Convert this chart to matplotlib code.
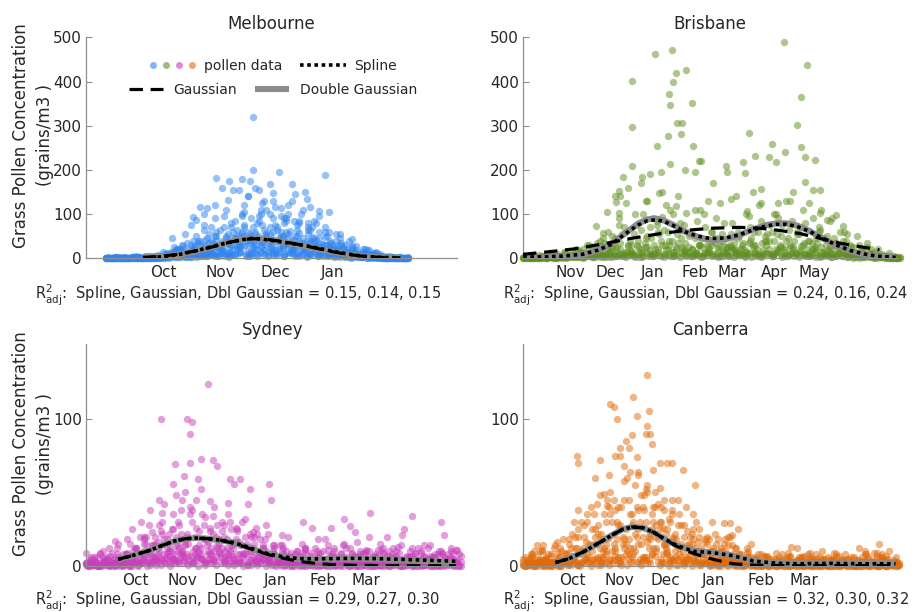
import numpy as np
import matplotlib
matplotlib.use('Agg')
from matplotlib import pyplot as plt
from matplotlib.lines import Line2D
from matplotlib.legend_handler import HandlerTuple

plt.rcParams['font.family'] = 'DejaVu Sans'
plt.rcParams['text.color'] = '#262626'
plt.rcParams['xtick.color'] = '#262626'
plt.rcParams['ytick.color'] = '#262626'

BLUE, GREEN, MAGENTA, ORANGE = '#2f84ee', '#5e8f1f', '#c83fbb', '#e06a0a'
AXIS_GREY = '#8f8f8f'
FIT_GREY = '#8c8c8c'

# ---- Melbourne (x = days since start of season window) ----
melb_months = ['Oct', 'Nov', 'Dec', 'Jan']
melb_month_days = [42, 73, 103, 134]
melb_rows = [
    [0, 1, 0, 2, 1, 0, 3, 1, 2, 5, 3, 8, 12, 6, 20, 9, 25, 14, 30, 18,
     42, 22, 55, 30, 48, 70, 35, 60, 28, 52, 40, 65, 22, 45, 30, 58, 18, 35, 26, 14,
     30, 12, 20, 8, 15, 6, 10, 4, 7, 2, 3, 1, 2, 0, 1],
    [0, 0, 2, 1, 0, 4, 0, 2, 1, 3, 6, 2, 15, 22, 4, 30, 10, 12, 45, 8,
     20, 35, 15, 85, 25, 40, 90, 20, 75, 35, 60, 28, 80, 15, 50, 22, 40, 70, 10, 32,
     8, 25, 16, 30, 5, 18, 3, 12, 2, 6, 1, 4, 0, 2, 0],
    [1, 2, 0, 0, 3, 1, 1, 0, 6, 2, 10, 5, 3, 15, 8, 12, 35, 5, 20, 50,
     12, 8, 30, 20, 100, 15, 25, 50, 10, 20, 18, 95, 35, 12, 75, 10, 55, 15, 45, 60,
     20, 40, 9, 14, 25, 3, 8, 18, 1, 4, 2, 0, 1, 1, 0],
    [0, 1, 1, 0, 0, 2, 2, 5, 0, 1, 2, 12, 6, 4, 28, 5, 18, 40, 8, 25,
     60, 15, 40, 10, 35, 120, 55, 12, 110, 45, 25, 12, 30, 100, 20, 85, 25, 10, 80, 20,
     50, 8, 30, 12, 40, 10, 5, 22, 8, 15, 0, 2, 3, 0, 1],
    [2, 0, 1, 3, 1, 0, 1, 2, 3, 8, 15, 4, 25, 10, 12, 2, 50, 22, 10, 35,
     5, 70, 22, 45, 15, 30, 10, 80, 40, 15, 90, 45, 10, 62, 25, 30, 12, 48, 30, 5,
     10, 18, 55, 5, 8, 28, 2, 5, 12, 1, 5, 0, 1, 3, 0],
    [0, 3, 0, 1, 2, 1, 0, 4, 1, 0, 0, 6, 9, 30, 2, 20, 5, 75, 12, 4,
     30, 50, 8, 65, 55, 5, 70, 40, 18, 100, 10, 40, 60, 20, 8, 45, 70, 32, 8, 48,
     35, 5, 12, 22, 2, 8, 15, 3, 5, 10, 1, 2, 0, 0, 2],
    [0, 0, 1, 0, 1, 0, 2, 0, 1, 2, 4, 3, 8, 2, 10, 6, 12, 4, 15, 10,
     8, 18, 5, 22, 12, 28, 6, 20, 14, 30, 22, 8, 25, 14, 18, 5, 20, 9, 16, 12,
     6, 14, 4, 10, 3, 7, 2, 4, 1, 3, 0, 1, 0, 1, 0],
    [1, 0, 0, 1, 0, 2, 0, 1, 0, 1, 1, 5, 2, 8, 3, 14, 2, 10, 6, 16,
     25, 4, 12, 8, 30, 10, 18, 5, 25, 8, 12, 20, 6, 28, 10, 16, 5, 22, 4, 18,
     15, 3, 8, 2, 12, 4, 6, 1, 3, 2, 0, 0, 1, 0, 0],
    [0, 1, 0, 0, 2, 0, 1, 3, 2, 4, 8, 15, 20, 12, 35, 18, 40, 25, 55, 30,
     65, 45, 80, 50, 95, 60, 40, 85, 65, 55, 75, 50, 90, 40, 65, 35, 80, 45, 60, 30,
     40, 20, 35, 15, 28, 12, 20, 8, 10, 5, 3, 2, 1, 0, 1],
    [1, 0, 2, 0, 1, 1, 0, 2, 4, 3, 5, 10, 6, 18, 12, 22, 15, 30, 20, 38,
     28, 40, 32, 45, 38, 50, 42, 55, 36, 48, 44, 38, 50, 30, 42, 35, 28, 40, 25, 32,
     22, 18, 15, 20, 10, 12, 6, 8, 4, 3, 2, 1, 0, 1, 0],
    [0, 0, 1, 1, 0, 0, 1, 0, 2, 1, 2, 1, 4, 3, 5, 2, 8, 6, 4, 10,
     6, 12, 3, 9, 15, 4, 11, 7, 13, 5, 9, 14, 4, 11, 6, 10, 3, 8, 5, 7,
     4, 6, 2, 5, 1, 3, 2, 1, 2, 0, 1, 0, 0, 0, 1],
    [0, 0, 0, 1, 0, 1, 0, 1, 0, 2, 3, 7, 18, 4, 10, 40, 12, 65, 35, 90,
     20, 110, 70, 25, 60, 140, 35, 95, 130, 70, 115, 60, 85, 130, 50, 110, 65, 40, 95, 70,
     25, 55, 30, 10, 20, 5, 12, 3, 6, 2, 1, 0, 1, 0, 0],
    [1, 1, 0, 0, 1, 2, 0, 0, 1, 0, 2, 4, 10, 22, 6, 15, 28, 10, 42, 15,
     50, 22, 35, 60, 28, 75, 48, 30, 100, 58, 35, 70, 45, 55, 85, 40, 30, 65, 42, 25,
     15, 32, 10, 25, 6, 15, 4, 9, 2, 4, 0, 1, 0, 2, 1],
]
melb_peak_day = [91, 91, 71, 78, 85, 74, 80, 83, 92, 94, 100, 105, 130, 112, 102, 114, 120,
                 102, 122, 132, 106, 127, 66, 70, 77, 58, 57, 60, 47, 138, 145, 153, 132, 88,
                 96, 110, 117, 64, 86, 98, 124, 108, 75, 68, 119, 89, 158, 54, 62, 116]
melb_peak_val = [319, 199, 181, 174, 179, 160, 154, 154, 160, 155, 169, 195, 188, 167, 147,
                 145, 133, 130, 116, 104, 113, 108, 113, 120, 131, 93, 75, 86, 45, 45, 43, 18,
                 60, 140, 125, 120, 100, 100, 105, 110, 85, 90, 95, 70, 150, 175, 12, 55, 116, 80]
melb_fit_day = [31, 40, 50, 60, 70, 78, 85, 90, 95, 100, 108, 116, 125, 134, 142, 150, 160, 171]
melb_dgauss = [2, 4, 8, 16, 27, 37, 43, 45, 44, 42, 37, 30, 22, 15, 9, 5, 2, 1]
melb_spline = [1, 3, 8, 17, 28, 36, 42, 45, 44, 41, 36, 31, 24, 16, 10, 5, 2, 1]
melb_gauss = [2, 4, 9, 17, 27, 36, 42, 44, 44, 42, 37, 31, 23, 15, 9, 5, 2, 1]

# ---- Brisbane ----
bris_months = ['Nov', 'Dec', 'Jan', 'Feb', 'Mar', 'Apr', 'May']
bris_month_days = [35, 65, 96, 127, 155, 186, 216]
bris_rows = [
    [2, 5, 1, 8, 3, 12, 4, 6, 15, 8, 5, 20, 10, 25, 8, 35, 15, 45, 20, 60,
     30, 75, 10, 50, 90, 20, 65, 40, 15, 80, 35, 55, 12, 45, 30, 60, 20, 40, 8, 35,
     50, 18, 70, 30, 85, 40, 60, 15, 75, 45, 25, 55, 10, 40, 20, 65, 30, 12, 35, 18,
     8, 25, 5, 15, 10, 3, 8, 2, 4, 1],
    [0, 1, 3, 0, 6, 2, 10, 1, 4, 12, 18, 3, 30, 6, 40, 12, 2, 25, 55, 8,
     15, 40, 100, 5, 30, 55, 8, 110, 25, 45, 10, 20, 85, 5, 25, 10, 45, 80, 30, 15,
     20, 100, 45, 10, 35, 55, 5, 90, 20, 65, 40, 15, 80, 5, 45, 25, 50, 8, 20, 40,
     15, 5, 30, 2, 12, 6, 2, 5, 1, 0],
    [4, 0, 2, 5, 1, 7, 2, 15, 3, 6, 2, 10, 4, 15, 28, 3, 50, 10, 8, 30,
     55, 2, 25, 70, 10, 40, 120, 15, 55, 20, 60, 8, 30, 100, 15, 45, 5, 20, 55, 10,
     30, 8, 25, 60, 12, 20, 40, 30, 5, 25, 10, 70, 20, 35, 8, 15, 5, 45, 10, 60,
     30, 2, 18, 8, 20, 1, 10, 4, 0, 2],
    [1, 3, 0, 2, 4, 0, 5, 3, 8, 2, 10, 6, 2, 35, 5, 20, 8, 75, 5, 12,
     2, 20, 45, 8, 75, 30, 20, 5, 35, 10, 25, 45, 6, 15, 60, 5, 28, 10, 20, 45,
     8, 35, 12, 5, 50, 10, 20, 8, 40, 12, 55, 30, 5, 20, 60, 10, 25, 35, 15, 8,
     5, 12, 2, 25, 3, 8, 4, 1, 2, 0],
    [0, 2, 1, 0, 2, 3, 1, 4, 2, 5, 8, 2, 15, 5, 12, 8, 25, 6, 35, 15,
     8, 30, 15, 25, 5, 60, 10, 30, 8, 65, 15, 5, 15, 25, 8, 30, 15, 5, 25, 18,
     12, 5, 40, 15, 8, 30, 10, 55, 25, 5, 20, 8, 35, 12, 25, 5, 15, 20, 5, 25,
     10, 15, 8, 5, 2, 15, 3, 6, 1, 2],
    [1, 0, 2, 1, 0, 3, 1, 5, 2, 8, 3, 12, 5, 2, 18, 8, 4, 22, 6, 15,
     10, 25, 4, 18, 12, 8, 30, 5, 20, 12, 6, 22, 10, 4, 15, 8, 28, 12, 4, 20,
     8, 15, 3, 22, 6, 12, 5, 18, 8, 10, 4, 18, 6, 10, 2, 15, 8, 3, 12, 6,
     2, 8, 1, 5, 10, 2, 4, 1, 2, 0],
    [0, 2, 1, 3, 0, 1, 4, 2, 6, 3, 10, 4, 8, 14, 3, 10, 20, 6, 12, 28,
     5, 15, 35, 10, 22, 6, 18, 40, 8, 25, 14, 5, 30, 12, 20, 35, 6, 15, 25, 9,
     22, 12, 30, 8, 18, 40, 10, 25, 15, 30, 12, 28, 8, 20, 35, 6, 18, 10, 25, 14,
     6, 10, 4, 8, 3, 5, 2, 3, 1, 0],
    [3, 1, 0, 4, 2, 8, 3, 12, 5, 20, 14, 30, 25, 12, 45, 60, 35, 90, 70, 40,
     100, 65, 130, 45, 85, 150, 60, 100, 140, 75, 50, 110, 30, 70, 40, 90, 55, 25, 80, 60,
     35, 95, 60, 120, 40, 75, 100, 50, 130, 85, 60, 110, 40, 90, 70, 45, 85, 30, 60, 40,
     25, 50, 20, 35, 10, 20, 6, 12, 4, 2],
    [1, 0, 1, 2, 0, 4, 1, 3, 1, 2, 6, 1, 9, 3, 6, 2, 12, 4, 9, 3,
     16, 8, 2, 12, 4, 15, 3, 10, 6, 2, 18, 4, 9, 2, 12, 5, 3, 14, 6, 2,
     8, 3, 12, 5, 2, 10, 4, 15, 3, 8, 12, 2, 9, 5, 14, 3, 8, 2, 6, 4,
     3, 1, 5, 2, 4, 0, 3, 1, 0, 1],
]
bris_peak_day = [81, 81, 98, 110, 113, 111, 108, 109, 114, 118, 117, 107, 121, 125, 126, 99,
                 81, 193, 210, 206, 203, 206, 194, 184, 187, 182, 172, 167, 216, 209, 209, 215,
                 220, 150, 151, 163, 164, 130, 132, 127, 120, 109, 102, 88, 94, 87, 74, 78, 71,
                 72, 76, 69, 92, 137, 141, 154, 158, 170, 176, 189, 200, 212, 221, 225, 232,
                 237, 240, 229, 220, 198, 186, 176, 166, 146, 131, 121, 113, 103, 101, 71, 62,
                 68, 54, 59]
bris_peak_val = [401, 297, 462, 472, 420, 398, 371, 346, 307, 307, 282, 276, 425, 351, 255,
                 253, 208, 489, 437, 365, 301, 251, 240, 259, 218, 229, 231, 284, 222, 230,
                 172, 155, 155, 209, 195, 217, 193, 219, 220, 195, 199, 214, 195, 185, 190,
                 170, 183, 160, 152, 140, 126, 128, 130, 130, 170, 133, 140, 149, 156, 126,
                 149, 126, 110, 87, 97, 72, 55, 90, 102, 130, 101, 126, 107, 125, 110, 102,
                 118, 94, 148, 102, 105, 140, 72, 57]
bris_fit_day = [0, 15, 30, 44, 55, 65, 75, 85, 92, 98, 104, 112, 120, 128, 136, 142, 150, 160,
                170, 180, 188, 195, 203, 212, 222, 232, 242, 252, 262, 276]
bris_dgauss = [2, 2, 4, 8, 18, 32, 55, 78, 88, 90, 86, 74, 60, 50, 43, 41, 43, 52, 65, 75,
               79, 79, 74, 62, 45, 29, 17, 9, 5, 2]
bris_spline = [3, 3, 5, 9, 18, 31, 54, 75, 85, 87, 84, 73, 60, 51, 46, 45, 46, 53, 64, 73,
               77, 77, 72, 61, 45, 30, 18, 10, 5, 2]
bris_gauss_day = [0, 20, 40, 60, 80, 100, 120, 140, 160, 175, 190, 205, 220, 235, 250, 264]
bris_gauss = [9, 15, 22, 33, 45, 55, 63, 68, 70, 68, 63, 56, 45, 34, 26, 19]

# ---- Sydney ----
syd_months = ['Oct', 'Nov', 'Dec', 'Jan', 'Feb', 'Mar']
syd_month_days = [32, 63, 93, 124, 155, 183]
syd_rows = [
    [2, 5, 1, 8, 3, 0, 4, 6, 2, 9, 5, 12, 3, 15, 8, 20, 6, 18, 10, 25,
     14, 8, 22, 30, 12, 5, 18, 26, 10, 15, 20, 8, 12, 25, 6, 15, 10, 3, 18, 8,
     5, 12, 3, 8, 2, 6, 10, 1, 4, 7, 3, 9, 1, 5, 12, 2, 6, 3, 8, 1,
     4, 10, 2, 6, 1, 8, 3, 12, 2, 5, 1, 7, 3, 10, 2, 5, 8, 1, 6, 3, 9, 2],
    [0, 2, 6, 1, 3, 7, 0, 2, 5, 1, 10, 2, 8, 4, 14, 2, 24, 5, 12, 8,
     28, 3, 15, 10, 6, 35, 4, 12, 20, 6, 10, 30, 4, 16, 9, 2, 12, 22, 5, 10,
     2, 6, 14, 1, 7, 3, 0, 9, 2, 4, 10, 1, 4, 7, 0, 3, 15, 2, 6, 0,
     8, 2, 5, 0, 11, 3, 6, 1, 9, 4, 6, 2, 12, 0, 5, 3, 1, 10, 2, 6, 1, 8],
    [4, 1, 0, 3, 6, 2, 8, 1, 3, 0, 2, 8, 15, 2, 6, 12, 4, 9, 3, 14,
     6, 18, 4, 8, 14, 2, 10, 5, 28, 12, 5, 14, 18, 3, 8, 22, 4, 6, 12, 2,
     14, 2, 5, 10, 1, 3, 6, 12, 3, 0, 6, 2, 11, 4, 1, 8, 3, 0, 5, 10,
     2, 6, 0, 3, 9, 1, 4, 7, 0, 3, 10, 4, 1, 6, 3, 0, 8, 2, 4, 12, 3, 0],
    [1, 3, 2, 0, 4, 1, 2, 5, 0, 3, 6, 4, 2, 9, 3, 6, 10, 3, 7, 5,
     4, 10, 8, 2, 6, 12, 3, 8, 4, 10, 3, 6, 2, 8, 14, 1, 5, 9, 3, 6,
     4, 8, 2, 3, 6, 0, 2, 4, 8, 1, 2, 5, 3, 0, 6, 2, 4, 1, 3, 6,
     0, 4, 2, 7, 1, 3, 0, 5, 2, 1, 4, 0, 3, 5, 1, 7, 2, 0, 4, 1, 2, 4],
    [0, 1, 0, 2, 1, 0, 1, 3, 1, 0, 2, 1, 4, 0, 3, 1, 5, 2, 0, 4,
     2, 6, 1, 3, 0, 5, 2, 8, 1, 3, 6, 2, 1, 4, 0, 3, 2, 1, 5, 0,
     1, 0, 3, 1, 0, 2, 1, 0, 1, 3, 0, 1, 2, 0, 1, 0, 3, 1, 0, 2,
     1, 0, 2, 1, 0, 1, 0, 2, 1, 0, 2, 1, 0, 1, 3, 0, 1, 0, 2, 1, 0, 1],
    [1, 4, 0, 6, 2, 9, 1, 5, 8, 3, 12, 6, 18, 10, 4, 16, 22, 12, 6, 20,
     8, 15, 35, 12, 24, 18, 8, 22, 14, 30, 12, 25, 16, 8, 20, 10, 15, 6, 12, 4,
     8, 3, 10, 6, 2, 8, 4, 12, 5, 2, 6, 10, 3, 8, 2, 5, 12, 4, 7, 3,
     9, 2, 6, 11, 4, 7, 2, 10, 3, 6, 2, 8, 4, 14, 1, 6, 3, 9, 2, 5, 11, 3],
    [2, 0, 3, 1, 1, 4, 0, 2, 1, 3, 0, 3, 2, 6, 1, 4, 3, 8, 2, 5,
     3, 10, 2, 6, 4, 8, 1, 5, 3, 9, 4, 1, 6, 2, 3, 7, 1, 4, 2, 5,
     3, 1, 2, 0, 4, 1, 3, 2, 0, 1, 2, 0, 1, 3, 1, 2, 0, 4, 1, 0,
     3, 1, 0, 2, 1, 0, 2, 1, 3, 0, 1, 2, 0, 3, 1, 0, 2, 1, 0, 2, 1, 0],
    [1, 2, 1, 0, 3, 1, 2, 0, 4, 2, 3, 0, 5, 2, 8, 4, 1, 6, 10, 3,
     12, 4, 7, 2, 10, 5, 14, 3, 6, 8, 2, 10, 5, 3, 8, 1, 6, 3, 9, 2,
     5, 2, 1, 4, 2, 0, 5, 1, 3, 2, 1, 4, 0, 2, 5, 1, 3, 0, 2, 6,
     1, 3, 0, 1, 4, 2, 1, 5, 0, 2, 3, 0, 4, 1, 2, 6, 0, 3, 1, 2, 4, 0],
    [3, 6, 2, 10, 5, 2, 12, 4, 8, 15, 6, 20, 10, 28, 14, 8, 30, 18, 25, 10,
     22, 14, 40, 20, 9, 28, 16, 34, 12, 24, 18, 8, 26, 14, 32, 12, 20, 9, 14, 22,
     10, 6, 14, 4, 9, 3, 7, 11, 2, 5, 8, 4, 14, 2, 6, 9, 3, 12, 5, 8,
     4, 10, 2, 7, 12, 3, 8, 5, 14, 2, 6, 9, 3, 7, 12, 4, 2, 8, 5, 10, 3, 7],
    [2, 6, 3, 9, 4, 12, 5, 15, 8, 18, 25, 12, 30, 20, 38, 15, 28, 42, 22, 35,
     30, 45, 20, 38, 26, 52, 33, 24, 40, 18, 28, 35, 15, 24, 30, 12, 20, 26, 10, 18,
     8, 14, 5, 12, 20, 6, 10, 15, 4, 9, 12, 5, 18, 7, 10, 3, 14, 6, 9, 16,
     5, 11, 3, 8, 15, 4, 10, 6, 13, 3, 7, 12, 4, 9, 3, 14, 6, 10, 2, 8, 5, 11],
]
syd_peak_day = [80, 49, 66, 69, 68, 75, 83, 68, 58, 86, 64, 73, 57, 94, 101, 97, 120, 107,
                65, 59, 48, 81, 62, 72, 106, 121, 93, 50, 186, 213, 232, 234, 169, 142, 148,
                160, 208, 173, 118, 109, 128, 207, 197, 185, 176, 152, 38, 43, 19, 0]
syd_peak_val = [124, 100, 100, 98, 90, 73, 72, 70, 69, 68, 61, 59, 56, 59, 59, 56, 56, 52,
                50, 48, 45, 44, 38, 45, 42, 45, 43, 36, 36, 34, 30, 21, 32, 30, 26, 26, 25,
                27, 28, 23, 21, 21, 20, 20, 23, 18, 20, 23, 17, 9]
syd_fit_day = [21, 30, 40, 50, 58, 65, 72, 80, 88, 96, 104, 112, 120, 130, 140, 150, 160,
               175, 190, 205, 220, 235, 242]
syd_dgauss = [4.5, 7, 10, 14, 17, 18.5, 19, 18.5, 17.5, 16, 13.5, 10.5, 8, 6, 4.8, 4.5,
              4.8, 5, 4.8, 4.2, 3.5, 2.8, 2.5]
syd_spline = [4.5, 7, 10, 14, 17, 18.5, 19, 18.5, 17.5, 16, 13.5, 10.5, 8, 6, 5, 4.8, 5,
              5.2, 5, 4.5, 4, 3.5, 3.2]
syd_gauss = [4.5, 7, 10, 14, 17, 18.5, 19, 18.5, 17.5, 15.5, 13, 10, 7.5, 5, 3, 1.8, 1,
             0.5, 0.3, 0.2, 0.2, 0.2, 0.2]

# ---- Canberra ----
can_months = ['Oct', 'Nov', 'Dec', 'Jan', 'Feb', 'Mar']
can_month_days = [32, 63, 93, 124, 155, 183]
can_rows = [
    [3, 1, 6, 2, 0, 4, 8, 2, 12, 5, 18, 6, 25, 10, 30, 4, 15, 22, 8, 35,
     12, 28, 45, 18, 8, 38, 20, 55, 25, 10, 30, 15, 6, 22, 12, 28, 5, 18, 10, 3,
     15, 8, 2, 12, 5, 20, 3, 8, 1, 6, 2, 5, 1, 7, 3, 0, 4, 2, 6, 1,
     3, 7, 1, 4, 0, 5, 2, 3, 8, 1, 4, 2, 6, 0, 3, 5, 1, 7, 2, 4, 1, 3],
    [0, 4, 2, 7, 1, 3, 0, 5, 2, 8, 4, 12, 3, 20, 6, 15, 28, 5, 18, 10,
     30, 6, 15, 35, 22, 5, 48, 12, 30, 18, 8, 25, 35, 5, 15, 40, 10, 4, 20, 8,
     3, 10, 18, 2, 8, 4, 12, 1, 5, 3, 6, 1, 3, 0, 5, 2, 8, 1, 3, 0,
     6, 2, 0, 5, 1, 3, 6, 0, 2, 4, 1, 6, 0, 3, 8, 1, 4, 0, 3, 5, 2, 0],
    [2, 6, 0, 3, 5, 1, 2, 9, 3, 1, 7, 2, 10, 5, 14, 20, 3, 12, 40, 15,
     6, 20, 10, 28, 40, 15, 6, 22, 50, 30, 15, 5, 18, 28, 4, 14, 22, 8, 12, 16,
     6, 4, 10, 5, 14, 2, 6, 3, 9, 2, 4, 0, 6, 2, 1, 3, 0, 5, 1, 4,
     0, 3, 5, 1, 6, 2, 0, 4, 1, 3, 5, 0, 2, 6, 1, 3, 0, 5, 1, 2, 4, 1],
    [1, 2, 4, 0, 2, 6, 1, 3, 0, 4, 2, 5, 1, 8, 3, 10, 6, 2, 14, 5,
     10, 3, 18, 8, 12, 25, 4, 16, 8, 20, 5, 12, 3, 10, 8, 2, 15, 5, 3, 10,
     2, 6, 1, 4, 10, 2, 4, 0, 3, 6, 1, 3, 0, 4, 2, 5, 1, 2, 0, 3,
     2, 0, 4, 1, 3, 0, 2, 5, 1, 0, 3, 1, 0, 4, 2, 0, 3, 1, 6, 0, 2, 1],
    [0, 1, 0, 2, 1, 0, 3, 1, 0, 2, 1, 3, 0, 4, 2, 5, 1, 6, 3, 2,
     5, 1, 8, 3, 10, 2, 6, 4, 12, 3, 2, 8, 4, 1, 6, 3, 2, 9, 1, 4,
     1, 3, 0, 2, 1, 5, 0, 2, 1, 0, 0, 2, 1, 0, 1, 0, 2, 0, 1, 2,
     1, 0, 1, 3, 0, 1, 0, 2, 0, 1, 0, 2, 1, 0, 1, 0, 2, 0, 1, 0, 1, 0],
    [4, 8, 2, 10, 5, 3, 12, 6, 18, 9, 22, 12, 30, 16, 40, 25, 12, 35, 20, 45,
     28, 15, 60, 35, 20, 48, 30, 18, 40, 25, 14, 32, 20, 45, 10, 24, 15, 30, 8, 18,
     10, 22, 6, 15, 20, 8, 25, 4, 12, 6, 3, 8, 2, 5, 1, 6, 3, 9, 2, 4,
     6, 1, 3, 8, 2, 5, 0, 4, 7, 2, 5, 1, 4, 2, 8, 3, 1, 6, 2, 10, 3, 1],
    [1, 3, 0, 2, 4, 1, 0, 3, 1, 5, 2, 6, 1, 3, 8, 2, 5, 1, 10, 4,
     7, 2, 12, 5, 3, 15, 6, 2, 8, 12, 3, 9, 2, 6, 4, 1, 7, 3, 5, 2,
     4, 1, 3, 0, 2, 6, 1, 3, 0, 2, 1, 0, 2, 1, 3, 0, 1, 2, 0, 3,
     0, 2, 1, 0, 3, 1, 0, 2, 1, 0, 2, 0, 1, 3, 0, 1, 2, 0, 1, 0, 2, 1],
    [6, 2, 10, 4, 14, 8, 3, 16, 10, 5, 12, 20, 8, 28, 15, 35, 22, 10, 45, 30,
     18, 40, 25, 12, 55, 30, 38, 20, 65, 42, 26, 10, 38, 18, 28, 6, 20, 12, 25, 8,
     18, 12, 4, 10, 6, 14, 3, 8, 5, 2, 5, 2, 7, 3, 1, 4, 2, 6, 1, 3,
     4, 2, 6, 0, 3, 5, 1, 3, 2, 5, 1, 3, 0, 2, 4, 1, 3, 0, 5, 2, 1, 3],
    [0, 2, 1, 4, 0, 2, 3, 0, 2, 1, 4, 1, 2, 5, 0, 3, 6, 2, 1, 4,
     2, 5, 1, 6, 3, 1, 4, 2, 7, 1, 3, 0, 4, 1, 2, 5, 0, 3, 1, 2,
     0, 2, 1, 3, 0, 1, 2, 0, 4, 1, 0, 1, 3, 0, 2, 1, 0, 1, 2, 0,
     1, 3, 0, 2, 0, 1, 4, 0, 1, 2, 0, 1, 2, 0, 3, 0, 1, 2, 0, 1, 0, 2],
    [5, 2, 8, 3, 11, 4, 7, 14, 6, 9, 15, 30, 20, 12, 35, 25, 42, 18, 30, 50,
     38, 25, 58, 45, 30, 62, 40, 50, 35, 28, 40, 22, 30, 15, 35, 20, 12, 25, 16, 8,
     20, 10, 15, 6, 18, 4, 12, 8, 3, 10, 4, 8, 2, 6, 3, 9, 1, 5, 7, 2,
     6, 3, 8, 2, 5, 10, 1, 4, 6, 3, 8, 2, 5, 12, 3, 6, 2, 9, 4, 7, 3, 6],
]
can_peak_day = [81, 72, 57, 59, 61, 74, 82, 81, 80, 83, 84, 71, 67, 63, 69, 60, 63, 74, 35,
                36, 50, 47, 56, 66, 70, 75, 89, 94, 97, 104, 112, 89, 80, 92, 97, 50, 53, 36,
                55, 62, 85, 92, 111, 123, 131, 135, 136, 9, 12, 149, 232, 229, 223, 234, 175,
                179, 187, 203]
can_peak_val = [130, 115, 110, 108, 100, 102, 105, 95, 90, 90, 83, 89, 85, 80, 80, 75, 75,
                74, 75, 70, 72, 60, 62, 68, 64, 64, 70, 70, 70, 65, 55, 53, 52, 45, 45, 48,
                49, 38, 41, 40, 40, 38, 35, 30, 29, 29, 21, 14, 10, 15, 15, 9, 10, 8, 13, 12,
                9, 9]
can_fit_day = [21, 30, 40, 50, 58, 65, 71, 78, 85, 92, 100, 111, 124, 137, 150, 166, 180,
               200, 220, 243]
can_dgauss = [2.3, 5, 10, 16, 21, 25, 26.5, 26, 23, 18.5, 14, 10.5, 9, 7, 3.5, 2, 1.8, 1.8,
              1.8, 1.8]
can_spline = [2.3, 5, 10, 16, 21, 25, 26.5, 26, 23, 18.5, 14, 10, 9, 7, 3.4, 1.8, 1.5, 1.8,
              1.5, 1.5]
can_gauss = [2.3, 5, 10, 16, 21, 25, 26.5, 26, 23, 18.5, 13.5, 8.5, 4.5, 1.5, 0.6, 0.3, 0.2,
             0.2, 0.2, 0.2]

r2_text = {
    'Melbourne': '0.15, 0.14, 0.15',
    'Brisbane': '0.24, 0.16, 0.24',
    'Sydney': '0.29, 0.27, 0.30',
    'Canberra': '0.32, 0.30, 0.32',
}

SPLINE_STYLE = dict(color='black', lw=2.6, linestyle=(0, (1, 1)))
GAUSS_STYLE = dict(color='black', lw=2.3, dashes=(4.2, 2.4))
DGAUSS_STYLE = dict(color=FIT_GREY, lw=4.4, solid_capstyle='butt')


def draw_city(ax, name, colour, rows, day0, step, extra_day, extra_val,
              fit_day, dgauss, spline, gauss_day, gauss,
              xmax, ymax, yticks, month_days, months):
    xs, ys = [], []
    for k, row in enumerate(rows):
        xs.append(day0 + k % step + step * np.arange(len(row)))
        ys.append(np.asarray(row, dtype=float))
    xs.append(np.asarray(extra_day, dtype=float))
    ys.append(np.asarray(extra_val, dtype=float))
    ax.scatter(np.concatenate(xs), np.concatenate(ys), s=28, color=colour,
               alpha=0.5, linewidths=0, clip_on=False, zorder=2)

    ax.plot(fit_day, dgauss, zorder=3, **DGAUSS_STYLE)
    ax.plot(gauss_day, gauss, zorder=4, **GAUSS_STYLE)
    ax.plot(fit_day, spline, zorder=5, **SPLINE_STYLE)

    ax.set_xlim(0, xmax)
    ax.set_ylim(0, ymax)
    for side in ('top', 'right'):
        ax.spines[side].set_visible(False)
    for side in ('left', 'bottom'):
        ax.spines[side].set_color(AXIS_GREY)
        ax.spines[side].set_linewidth(0.9)
    ax.set_xticks(month_days, months)
    ax.set_yticks(yticks)
    ax.tick_params(axis='x', length=0, pad=5, labelsize=11)
    ax.tick_params(axis='y', direction='in', length=4, color=AXIS_GREY,
                   labelsize=11, pad=3)
    ax.set_title(name, fontsize=12, pad=6)


fig = plt.figure(figsize=(9.21, 6.12), dpi=100)
ax_melb = fig.add_axes([0.0934, 0.578, 0.403, 0.361])
ax_bris = fig.add_axes([0.568, 0.578, 0.406, 0.361])
ax_syd = fig.add_axes([0.0934, 0.0752, 0.405, 0.363])
ax_can = fig.add_axes([0.568, 0.0752, 0.406, 0.363])

draw_city(ax_melb, 'Melbourne', BLUE, melb_rows, 11, 3, melb_peak_day, melb_peak_val,
          melb_fit_day, melb_dgauss, melb_spline, melb_fit_day, melb_gauss,
          202, 500, [0, 100, 200, 300, 400, 500], melb_month_days, melb_months)
draw_city(ax_bris, 'Brisbane', GREEN, bris_rows, 0, 4, bris_peak_day, bris_peak_val,
          bris_fit_day, bris_dgauss, bris_spline, bris_gauss_day, bris_gauss,
          277, 500, [0, 100, 200, 300, 400, 500], bris_month_days, bris_months)
draw_city(ax_syd, 'Sydney', MAGENTA, syd_rows, 0, 3, syd_peak_day, syd_peak_val,
          syd_fit_day, syd_dgauss, syd_spline, syd_fit_day, syd_gauss,
          244, 151, [0, 100], syd_month_days, syd_months)
draw_city(ax_can, 'Canberra', ORANGE, can_rows, 0, 3, can_peak_day, can_peak_val,
          can_fit_day, can_dgauss, can_spline, can_fit_day, can_gauss,
          244, 151, [0, 100], can_month_days, can_months)

# legend: two independently centred rows in the Melbourne panel
dots = tuple(Line2D([], [], ls='', marker='o', markersize=5, markeredgewidth=0,
                    color=c, alpha=0.6) for c in (BLUE, GREEN, MAGENTA, ORANGE))
spline_h = Line2D([], [], **SPLINE_STYLE)
gauss_h = Line2D([], [], **GAUSS_STYLE)
dgauss_h = Line2D([], [], **DGAUSS_STYLE)

leg1 = ax_melb.legend([dots, spline_h], ['pollen data', 'Spline'],
                      handler_map={tuple: HandlerTuple(ndivide=None, pad=0.5)},
                      ncol=2, loc='center', bbox_to_anchor=(0.504, 0.869),
                      frameon=False, fontsize=10, handlelength=3.3,
                      handletextpad=0.6, columnspacing=1.3, borderpad=0)
ax_melb.add_artist(leg1)
ax_melb.legend([gauss_h, dgauss_h], ['Gaussian', 'Double Gaussian'],
               ncol=2, loc='center', bbox_to_anchor=(0.504, 0.76),
               frameon=False, fontsize=10, handlelength=2.4,
               handletextpad=0.8, columnspacing=1.3, borderpad=0)

# shared y label, one per row of panels
for yc in (0.779, 0.2745):
    fig.text(0.0355, yc, 'Grass Pollen Concentration\n(grains/m3 )', rotation=90,
             ha='center', va='center', multialignment='center', fontsize=12,
             linespacing=1.45)

# goodness of fit under each panel
r2_pos = {
    'Melbourne': (0.038, 0.517),
    'Brisbane': (0.546, 0.517),
    'Sydney': (0.038, 0.018),
    'Canberra': (0.546, 0.018),
}
for city, (x, y) in r2_pos.items():
    fig.text(x, y, r'$\mathregular{R^2_{adj}}$:  Spline, Gaussian, Dbl Gaussian = '
             + r2_text[city], fontsize=10.5, ha='left', va='center')

fig.savefig('out.png', dpi=100)
